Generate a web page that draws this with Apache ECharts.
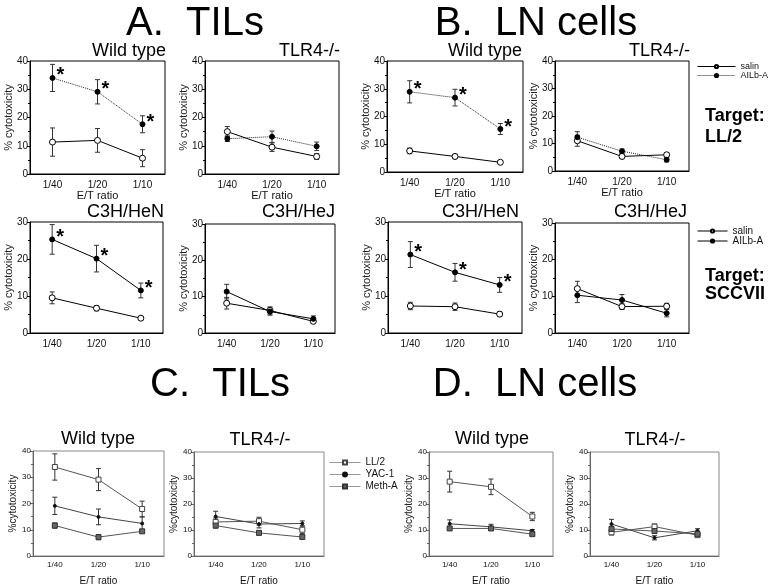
<!DOCTYPE html>
<html><head><meta charset="utf-8">
<script src="https://cdn.jsdelivr.net/npm/echarts@6/dist/echarts.min.js"></script>
<style>html,body{margin:0;padding:0;background:#fff}#c{width:770px;height:587px}</style>
</head><body><div id="c"></div>
<script>
// ---- data ----
const ratios = ['1/40', '1/20', '1/10'];
// A. TILs, target LL/2
const tilsLL2WildSalin = [11.3, 11.9, 5.6];   const tilsLL2WildSalinErr = [5, 4.2, 3];
const tilsLL2WildAilb  = [34, 29.1, 17.6];    const tilsLL2WildAilbErr  = [4.8, 4.3, 3];
const tilsLL2TlrSalin  = [15, 9.5, 6.2];      const tilsLL2TlrSalinErr  = [1.8, 1.5, 1];
const tilsLL2TlrAilb   = [12.5, 13.2, 9.8];   const tilsLL2TlrAilbErr   = [1, 2, 1.5];
// B. LN cells, target LL/2
const lnLL2WildSalin = [7.6, 5.6, 3.5];       const lnLL2WildSalinErr = [1, 0.8, 0.5];
const lnLL2WildAilb  = [28.9, 26.8, 15.5];    const lnLL2WildAilbErr  = [4, 3, 2];
const lnLL2TlrSalin  = [11, 5.3, 5.9];        const lnLL2TlrSalinErr  = [2, 0.8, 0.8];
const lnLL2TlrAilb   = [12.3, 7.2, 4.1];      const lnLL2TlrAilbErr   = [2, 0.8, 0.8];
// A. TILs, target SCCVII
const tilsSccHeNSalin = [9.5, 6.7, 4.0];      const tilsSccHeNSalinErr = [1.6, 0.7, 0.5];
const tilsSccHeNAilb  = [25.3, 20.1, 11.5];   const tilsSccHeNAilbErr  = [4, 3.6, 2];
const tilsSccHeJSalin = [8.2, 6.2, 3.2];      const tilsSccHeJSalinErr = [1.6, 1, 0.5];
const tilsSccHeJAilb  = [11.4, 5.9, 3.9];     const tilsSccHeJAilbErr  = [2, 1, 0.8];
// B. LN cells, target SCCVII
const lnSccHeNSalin = [7.3, 7.1, 5.1];        const lnSccHeNSalinErr = [1, 1, 0.6];
const lnSccHeNAilb  = [21.2, 16.4, 13];       const lnSccHeNAilbErr  = [3.5, 2.4, 2];
const lnSccHeJSalin = [12.1, 7.2, 7.3];       const lnSccHeJSalinErr = [2, 0.8, 0.8];
const lnSccHeJAilb  = [10.3, 9, 5.4];         const lnSccHeJAilbErr  = [2, 1.5, 1];
// significance stars (AILb-A vs salin)
const starsAll = [true, true, true];
// C. TILs, targets
const tilsWildLL2  = [33.9, 29.1, 17.9];      const tilsWildLL2Err  = [5, 4.2, 3];
const tilsWildYac  = [19.1, 14.9, 12.4];      const tilsWildYacErr  = [3.3, 3, 2.5];
const tilsWildMeth = [11.6, 7.2, 9.4];        const tilsWildMethErr = [1, 1, 0.6];
const tilsTlrLL2   = [13.1, 13.4, 10.1];      const tilsTlrLL2Err   = [1.5, 1.5, 1.5];
const tilsTlrYac   = [15.2, 12.3, 12.5];      const tilsTlrYacErr   = [2, 1.5, 1];
const tilsTlrMeth  = [11.7, 8.9, 7.3];        const tilsTlrMethErr  = [1, 0.8, 0.5];
// D. LN cells, targets
const lnWildLL2  = [28.6, 26.6, 15.2];        const lnWildLL2Err  = [4, 3, 1.6];
const lnWildYac  = [12.4, 11.2, 9.7];         const lnWildYacErr  = [1.5, 1, 0.5];
const lnWildMeth = [10.6, 10.6, 8.4];         const lnWildMethErr = [0.7, 0.7, 0.5];
const lnTlrLL2   = [9.1, 11.3, 8];            const lnTlrLL2Err   = [1, 1, 0.7];
const lnTlrYac   = [12.3, 7, 9.7];            const lnTlrYacErr   = [1.8, 0.8, 0.8];
const lnTlrMeth  = [10.4, 9.6, 8.5];          const lnTlrMethErr  = [1, 0.8, 0.5];

// ---- build ----
const FONT = 'Liberation Sans, Arial, Helvetica, sans-serif';
const chart = echarts.init(document.getElementById('c'), null, {renderer: 'canvas'});
const grids = [], xAxes = [], yAxes = [], series = [], titles = [];

const STY = {
  salin1: {color: '#fff', border: '#000', symbol: 'circle', size: 6, line: {color: '#000', width: 1, type: 'solid'}},
  ailb1:  {color: '#000', border: '#000', symbol: 'circle', size: 5, line: {color: '#222', width: 1, type: 'dotted'}},
  salin2: {color: '#fff', border: '#000', symbol: 'circle', size: 6, line: {color: '#000', width: 1, type: 'solid'}},
  ailb2:  {color: '#000', border: '#000', symbol: 'circle', size: 5, line: {color: '#000', width: 1, type: 'solid'}},
  ll2:    {color: '#fff', border: '#444', symbol: 'rect', size: 5, line: {color: '#555', width: 1, type: 'solid'}},
  yac:    {color: '#111', border: '#111', symbol: 'circle', size: 3, line: {color: '#444', width: 1, type: 'solid'}},
  meth:   {color: '#666', border: '#333', symbol: 'rect', size: 5, line: {color: '#555', width: 1, type: 'solid'}}
};

function panel(p) {
  const gi = grids.length;
  const small = p.row === 3;
  const axisColor = small ? '#666' : '#000';
  grids.push({left: p.l, top: p.t, width: p.w, height: p.h, show: true,
    borderColor: small ? '#888' : '#000', borderWidth: 1, backgroundColor: 'transparent'});
  xAxes.push({gridIndex: gi, type: 'category', data: ratios, boundaryGap: true,
    axisLine: {lineStyle: {color: axisColor}},
    axisTick: {alignWithLabel: true, length: 3, lineStyle: {color: axisColor}},
    axisLabel: {fontSize: small ? 8 : 10, color: '#111', fontFamily: FONT, margin: small ? 5 : 6},
    name: p.xName || '', nameLocation: 'middle', nameGap: small ? 20 : 16, nameMoveOverlap: false,
    nameTextStyle: {fontSize: small ? 10 : 11, color: '#111', fontFamily: FONT}});
  yAxes.push({gridIndex: gi, type: 'value', min: 0, max: p.ymax, interval: 10,
    axisLine: {show: true, lineStyle: {color: axisColor}},
    axisTick: {show: true, length: 3, lineStyle: {color: axisColor}},
    minorTick: {show: true, splitNumber: 2, length: 2, lineStyle: {color: axisColor}},
    splitLine: {show: false},
    axisLabel: {fontSize: small ? 8 : 10, color: '#111', fontFamily: FONT, margin: 2},
    name: small ? '%cytotoxicity' : '% cytotoxicity', nameLocation: 'middle', nameGap: small ? 15 : 16,
    nameMoveOverlap: false,
    nameTextStyle: {fontSize: small ? 10 : 11, color: '#222', fontFamily: FONT}});
  titles.push({text: p.title, left: p.tx, top: p.ty, textAlign: p.talign, padding: 0,
    textStyle: {fontSize: 18, fontWeight: 'normal', color: '#000', fontFamily: FONT}});
  p.series.forEach(s => {
    const st = STY[s.style];
    series.push({type: 'custom', name: 'err', xAxisIndex: gi, yAxisIndex: gi, silent: true, z: 1,
      data: s.v.map((v, i) => [i, Math.max(0, v - s.e[i]), v + s.e[i]]),
      encode: {x: 0, y: [1, 2]},
      renderItem: (params, api) => {
        const lo = api.coord([api.value(0), api.value(1)]);
        const hi = api.coord([api.value(0), api.value(2)]);
        const w = 2.5, ls = {stroke: '#333', lineWidth: 1};
        return {type: 'group', children: [
          {type: 'line', shape: {x1: lo[0], y1: lo[1], x2: hi[0], y2: hi[1]}, style: ls},
          {type: 'line', shape: {x1: hi[0] - w, y1: hi[1], x2: hi[0] + w, y2: hi[1]}, style: ls},
          {type: 'line', shape: {x1: lo[0] - w, y1: lo[1], x2: lo[0] + w, y2: lo[1]}, style: ls}
        ]};
      }});
    series.push({type: 'line', name: s.name, xAxisIndex: gi, yAxisIndex: gi, z: 3,
      symbol: st.symbol, symbolSize: st.size, showAllSymbol: true,
      itemStyle: {color: st.color, borderColor: st.border, borderWidth: 1},
      lineStyle: st.line, emphasis: {disabled: true}, animation: false,
      data: s.v.map((v, i) => (s.stars && s.stars[i]) ? {value: v, label: {show: true, formatter: '*',
        position: 'right', distance: 1, offset: [0, -2], fontSize: 20, fontWeight: 'bold', color: '#000', fontFamily: FONT}} : v)});
  });
}

// Row 1: target LL/2
panel({row: 1, l: 30, t: 61, w: 135, h: 113, ymax: 40, xName: 'E/T ratio', title: 'Wild type', tx: 166, ty: 42, talign: 'right',
  series: [{name: 'salin_1', style: 'salin1', v: tilsLL2WildSalin, e: tilsLL2WildSalinErr},
           {name: 'AILb-A_1', style: 'ailb1', v: tilsLL2WildAilb, e: tilsLL2WildAilbErr, stars: starsAll}]});
panel({row: 1, l: 205, t: 61, w: 134, h: 113, ymax: 40, xName: 'E/T ratio', title: 'TLR4-/-', tx: 340, ty: 42, talign: 'right',
  series: [{name: 'salin_1', style: 'salin1', v: tilsLL2TlrSalin, e: tilsLL2TlrSalinErr},
           {name: 'AILb-A_1', style: 'ailb1', v: tilsLL2TlrAilb, e: tilsLL2TlrAilbErr}]});
panel({row: 1, l: 387, t: 61, w: 136, h: 111, ymax: 40, xName: 'E/T ratio', title: 'Wild type', tx: 522, ty: 42, talign: 'right',
  series: [{name: 'salin_1', style: 'salin1', v: lnLL2WildSalin, e: lnLL2WildSalinErr},
           {name: 'AILb-A_1', style: 'ailb1', v: lnLL2WildAilb, e: lnLL2WildAilbErr, stars: starsAll}]});
panel({row: 1, l: 555, t: 61, w: 134, h: 110, ymax: 40, xName: 'E/T ratio', title: 'TLR4-/-', tx: 690, ty: 42, talign: 'right',
  series: [{name: 'salin_1', style: 'salin1', v: lnLL2TlrSalin, e: lnLL2TlrSalinErr},
           {name: 'AILb-A_1', style: 'ailb1', v: lnLL2TlrAilb, e: lnLL2TlrAilbErr}]});
// Row 2: target SCCVII
panel({row: 2, l: 30, t: 222, w: 133, h: 111, ymax: 30, title: 'C3H/HeN', tx: 164, ty: 203, talign: 'right',
  series: [{name: 'salin_2', style: 'salin2', v: tilsSccHeNSalin, e: tilsSccHeNSalinErr},
           {name: 'AILb-A_2', style: 'ailb2', v: tilsSccHeNAilb, e: tilsSccHeNAilbErr, stars: starsAll}]});
panel({row: 2, l: 205, t: 224, w: 130, h: 109, ymax: 30, title: 'C3H/HeJ', tx: 335, ty: 203, talign: 'right',
  series: [{name: 'salin_2', style: 'salin2', v: tilsSccHeJSalin, e: tilsSccHeJSalinErr},
           {name: 'AILb-A_2', style: 'ailb2', v: tilsSccHeJAilb, e: tilsSccHeJAilbErr}]});
panel({row: 2, l: 388, t: 222, w: 134, h: 111, ymax: 30, title: 'C3H/HeN', tx: 519, ty: 203, talign: 'right',
  series: [{name: 'salin_2', style: 'salin2', v: lnSccHeNSalin, e: lnSccHeNSalinErr},
           {name: 'AILb-A_2', style: 'ailb2', v: lnSccHeNAilb, e: lnSccHeNAilbErr, stars: starsAll}]});
panel({row: 2, l: 555, t: 223, w: 134, h: 110, ymax: 30, title: 'C3H/HeJ', tx: 687, ty: 203, talign: 'right',
  series: [{name: 'salin_2', style: 'salin2', v: lnSccHeJSalin, e: lnSccHeJSalinErr},
           {name: 'AILb-A_2', style: 'ailb2', v: lnSccHeJAilb, e: lnSccHeJAilbErr}]});
// Row 3: targets LL/2, YAC-1, Meth-A
panel({row: 3, l: 33, t: 451, w: 131, h: 110, ymax: 40, xName: 'E/T ratio', title: 'Wild type', tx: 98, ty: 430, talign: 'center',
  series: [{name: 'LL/2', style: 'll2', v: tilsWildLL2, e: tilsWildLL2Err},
           {name: 'YAC-1', style: 'yac', v: tilsWildYac, e: tilsWildYacErr},
           {name: 'Meth-A', style: 'meth', v: tilsWildMeth, e: tilsWildMethErr}]});
panel({row: 3, l: 194, t: 452, w: 130, h: 109, ymax: 40, xName: 'E/T ratio', title: 'TLR4-/-', tx: 260, ty: 431, talign: 'center',
  series: [{name: 'LL/2', style: 'll2', v: tilsTlrLL2, e: tilsTlrLL2Err},
           {name: 'YAC-1', style: 'yac', v: tilsTlrYac, e: tilsTlrYacErr},
           {name: 'Meth-A', style: 'meth', v: tilsTlrMeth, e: tilsTlrMethErr}]});
panel({row: 3, l: 429, t: 452, w: 124, h: 109, ymax: 40, xName: 'E/T ratio', title: 'Wild type', tx: 492, ty: 430, talign: 'center',
  series: [{name: 'LL/2', style: 'll2', v: lnWildLL2, e: lnWildLL2Err},
           {name: 'YAC-1', style: 'yac', v: lnWildYac, e: lnWildYacErr},
           {name: 'Meth-A', style: 'meth', v: lnWildMeth, e: lnWildMethErr}]});
panel({row: 3, l: 590, t: 452, w: 129, h: 110, ymax: 40, xName: 'E/T ratio', title: 'TLR4-/-', tx: 655, ty: 431, talign: 'center',
  series: [{name: 'LL/2', style: 'll2', v: lnTlrLL2, e: lnTlrLL2Err},
           {name: 'YAC-1', style: 'yac', v: lnTlrYac, e: lnTlrYacErr},
           {name: 'Meth-A', style: 'meth', v: lnTlrMeth, e: lnTlrMethErr}]});

// main headings
const heads = [['A.  TILs', 195, 4], ['B.  LN cells', 536, 4], ['C.  TILs', 220, 365], ['D.  LN cells', 535, 365]];
heads.forEach(h => titles.push({text: h[0], left: h[1], top: h[2], textAlign: 'center', padding: 0,
  textStyle: {fontSize: 40, fontWeight: 'normal', color: '#000', fontFamily: FONT}}));

const stripName = n => n.replace(/_\d$/, '');
const legendText = sz => ({fontSize: sz, color: '#111', fontFamily: FONT});
chart.setOption({
  animation: false,
  backgroundColor: '#fff',
  title: titles,
  grid: grids, xAxis: xAxes, yAxis: yAxes, series: series,
  legend: [
    {data: ['salin_1', 'AILb-A_1'], left: 697, top: 62, orient: 'vertical', itemWidth: 38, itemHeight: 4,
     itemGap: 0, padding: 0, formatter: stripName, selectedMode: false, lineStyle: {width: 1},
     textStyle: Object.assign(legendText(9), {lineHeight: 7})},
    {data: ['salin_2', 'AILb-A_2'], left: 697, top: 226, orient: 'vertical', itemWidth: 30, itemHeight: 4,
     itemGap: 0, padding: 0, formatter: stripName, selectedMode: false, lineStyle: {width: 1},
     textStyle: Object.assign(legendText(10), {lineHeight: 10})},
    {data: ['LL/2', 'YAC-1', 'Meth-A'], left: 329, top: 457, orient: 'vertical', itemWidth: 31, itemHeight: 5,
     itemGap: 1, padding: 0, selectedMode: false, lineStyle: {width: 1, color: '#999'},
     textStyle: Object.assign(legendText(10), {lineHeight: 11})}
  ],
  graphic: [
    {type: 'text', left: 705, top: 107, style: {text: 'Target:', fontSize: 18, fontWeight: 'bold', fill: '#000', fontFamily: FONT}},
    {type: 'text', left: 705, top: 128, style: {text: 'LL/2', fontSize: 18, fontWeight: 'bold', fill: '#000', fontFamily: FONT}},
    {type: 'text', left: 705, top: 267, style: {text: 'Target:', fontSize: 18, fontWeight: 'bold', fill: '#000', fontFamily: FONT}},
    {type: 'text', left: 705, top: 285, style: {text: 'SCCVII', fontSize: 18, fontWeight: 'bold', fill: '#000', fontFamily: FONT}}
  ]
});
</script></body></html>
